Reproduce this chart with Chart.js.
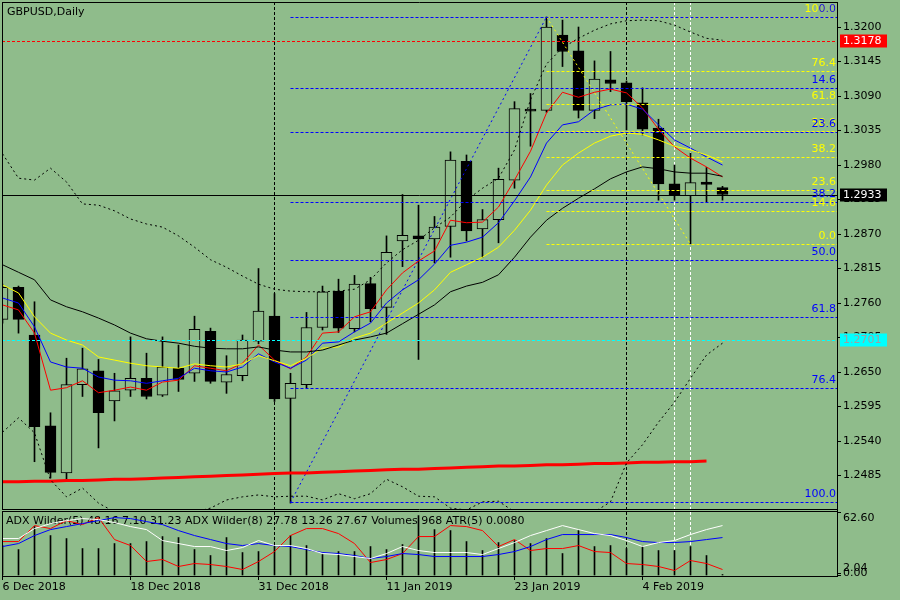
<!DOCTYPE html>
<html>
<head>
<meta charset="utf-8">
<script src="https://cdn.jsdelivr.net/npm/chart.js@4.4.1/dist/chart.umd.min.js"></script>
<style>
  html, body { margin: 0; padding: 0; background: #8FBC8B; overflow: hidden; }
</style>
</head>
<body>
<canvas id="chart" width="900" height="600"></canvas>
<script>
const ctx = document.getElementById("chart");

const bgColor = "#8FBC8B";
const title = "GBPUSD,Daily";
const indicatorTitle = "ADX Wilder(5) 48.16 7.10 31.23 ADX Wilder(8) 27.78 13.26 27.67 Volumes 968 ATR(5) 0.0080";

// daily candles, 6 Dec 2018 .. 11 Feb 2019 (bar index 0..45)
const open  = [1.2734,1.2785,1.2709,1.2564,1.2489,1.2630,1.2652,1.2604,1.2621,1.2640,1.2613,1.2656,1.2648,1.2715,1.2634,1.2644,1.2699,1.2739,1.2608,1.2630,1.2721,1.2779,1.2719,1.2791,1.2753,1.2859,1.2867,1.2862,1.2882,1.2986,1.2878,1.2893,1.2956,1.3069,1.3067,1.3187,1.3162,1.3067,1.3116,1.3111,1.3079,1.3039,1.2950,1.2931,1.2953,1.2944];
const high  = [1.2790,1.2787,1.2762,1.2585,1.2672,1.2688,1.2670,1.2648,1.2706,1.2680,1.2706,1.2693,1.2739,1.2720,1.2676,1.2709,1.2815,1.2775,1.2648,1.2745,1.2787,1.2798,1.2804,1.2801,1.2867,1.2933,1.2916,1.2898,1.3001,1.2996,1.2909,1.2975,1.3081,1.3094,1.3216,1.3211,1.3200,1.3146,1.3161,1.3114,1.3103,1.3053,1.2980,1.2999,1.2976,1.2946];
const low   = [1.2728,1.2712,1.2507,1.2481,1.2479,1.2611,1.2529,1.2572,1.2611,1.2607,1.2611,1.2619,1.2635,1.2632,1.2616,1.2636,1.2695,1.2603,1.2441,1.2625,1.2717,1.2713,1.2714,1.2730,1.2710,1.2818,1.2670,1.2824,1.2833,1.2859,1.2833,1.2856,1.2943,1.3010,1.3064,1.3137,1.3055,1.3054,1.3097,1.3036,1.3028,1.2924,1.2924,1.2854,1.2921,1.2924];
const close = [1.2785,1.2734,1.2563,1.2490,1.2630,1.2655,1.2585,1.2620,1.2640,1.2611,1.2658,1.2638,1.2718,1.2635,1.2646,1.2701,1.2747,1.2607,1.2632,1.2721,1.2778,1.2720,1.2790,1.2751,1.2841,1.2868,1.2862,1.2881,1.2988,1.2875,1.2893,1.2957,1.3070,1.3066,1.3200,1.3161,1.3067,1.3117,1.3110,1.3081,1.3037,1.2950,1.2931,1.2952,1.2949,1.2933];

// moving averages drawn on the price chart
const maRed    = [1.2757,1.2749,1.2712,1.2621,1.2625,1.2636,1.2617,1.2621,1.2626,1.2621,1.2634,1.2637,1.2660,1.2656,1.2652,1.2664,1.2693,1.2669,1.2655,1.2674,1.2712,1.2714,1.2738,1.2746,1.2781,1.2808,1.2827,1.2843,1.2892,1.2888,1.2889,1.2913,1.2956,1.3002,1.3063,1.3096,1.3088,1.3096,1.3101,1.3095,1.3071,1.3037,1.3009,1.2991,1.2977,1.2961];
const maBlue   = [1.2768,1.2760,1.2722,1.2666,1.2658,1.2656,1.2642,1.2637,1.2636,1.2632,1.2636,1.2640,1.2656,1.2652,1.2650,1.2658,1.2679,1.2666,1.2656,1.2669,1.2696,1.2698,1.2714,1.2728,1.2760,1.2781,1.2797,1.2822,1.2852,1.2857,1.2865,1.2888,1.2923,1.2961,1.3015,1.3044,1.3049,1.3068,1.3076,1.3077,1.3069,1.3044,1.3020,1.3007,1.2993,1.2980];
const maYellow = [1.2789,1.2776,1.2738,1.2712,1.2701,1.2693,1.2674,1.2669,1.2664,1.2660,1.2658,1.2656,1.2663,1.2660,1.2658,1.2663,1.2676,1.2668,1.2660,1.2672,1.2688,1.2690,1.2704,1.2712,1.2728,1.2744,1.2760,1.2781,1.2809,1.2821,1.2833,1.2849,1.2876,1.2908,1.2948,1.2980,1.2999,1.3015,1.3026,1.3031,1.3029,1.3020,1.3010,1.3004,1.2996,1.2985];
const maBlack  = [1.2821,1.2809,1.2797,1.2765,1.2754,1.2746,1.2736,1.2725,1.2712,1.2703,1.2699,1.2696,1.2691,1.2688,1.2687,1.2687,1.2690,1.2685,1.2682,1.2682,1.2685,1.2693,1.2701,1.2706,1.2712,1.2727,1.2742,1.2757,1.2778,1.2787,1.2793,1.2805,1.2833,1.2865,1.2892,1.2911,1.2927,1.2942,1.2958,1.2969,1.2977,1.2974,1.2969,1.2967,1.2967,1.2962];
const bandUp   = [1.2998,1.2959,1.2956,1.2975,1.2953,1.2918,1.2916,1.2907,1.2894,1.2886,1.2881,1.2867,1.2849,1.2829,1.2817,1.2803,1.2790,1.2782,1.2779,1.2778,1.2778,1.2779,1.2782,1.2797,1.2824,1.2845,1.2860,1.2880,1.2897,1.2924,1.2943,1.2959,1.3004,1.3084,1.3141,1.3167,1.3182,1.3195,1.3205,1.3210,1.3211,1.3210,1.3203,1.3192,1.3182,1.3179];
const bandDown = [1.2554,1.2577,1.2553,1.2478,1.2451,1.2465,1.2441,1.2427,1.2422,1.2420,1.2422,1.2425,1.2427,1.2433,1.2446,1.2451,1.2454,1.2451,1.2452,1.2452,1.2446,1.2456,1.2448,1.2456,1.2479,1.2467,1.2452,1.2451,1.2433,1.2430,1.2443,1.2444,1.2427,1.2422,1.2417,1.2417,1.2420,1.2427,1.2443,1.2505,1.2534,1.2570,1.2602,1.2640,1.2677,1.2696];
const maLong   = [1.2475,1.2475,1.2476,1.2476,1.2477,1.2477,1.2478,1.2479,1.2479,1.2480,1.2481,1.2482,1.2483,1.2484,1.2485,1.2486,1.2487,1.2488,1.2489,1.2489,1.2490,1.2491,1.2492,1.2493,1.2494,1.2495,1.2495,1.2496,1.2497,1.2498,1.2499,1.2500,1.2500,1.2501,1.2502,1.2502,1.2503,1.2504,1.2504,1.2505,1.2506,1.2506,1.2507,1.2507,1.2508,null];

// lower window
const volumes  = [30,26,49,40,37,27,27,32,32,34,39,38,26,20,38,23,24,30,40,30,21,24,24,29,26,31,60,46,45,34,25,33,35,32,37,22,45,29,30,27,29,25,25,29,20,1];
const adxWhite = [37,37,47,52,55,57,56,53,49,46,35,32,29,29,25,28,35,30,30,27,22,21,19,17,22,29,25,23,23,23,21,27,33,40,45,50,46,42,40,35,29,33,35,41,46,50];
const adxBlue  = [29,32,40,46,49,52,55,58,57,54,51,45,40,36,32,30,32,30,29,26,23,22,20,17,19,22,21,19,19,19,19,21,24,29,36,41,41,41,41,38,34,33,33,34,36,38];
const adxRed   = [34,34,50,47,55,51,58,36,30,14,16,9,12,11,9,6,14,24,40,47,47,42,32,13,16,22,39,39,50,49,45,29,36,25,27,27,30,24,23,12,11,9,5,15,12,6];

// axes
const xTickBars = [0, 8, 16, 24, 32, 40];
const xTickLabels = ["6 Dec 2018", "18 Dec 2018", "31 Dec 2018", "11 Jan 2019", "23 Jan 2019", "4 Feb 2019"];
const priceTicks = [1.3200,1.3145,1.3090,1.3035,1.2980,1.2925,1.2870,1.2815,1.2760,1.2705,1.2650,1.2595,1.2540,1.2485];
const indTicks = [0, 2.04, 62.6];
const indTickLabels = ["0.00", "2.04", "62.60"];

// fibo objects: [start bar, end bar], [start price, end price]
const fibLevels = [0, 14.6, 23.6, 38.2, 50, 61.8, 76.4, 100];
const blueFibBars = [18, 34];
const blueFibPrices = [1.2442, 1.3216];
const yellowFibBars = [34, 43];
const yellowFibPrices = [1.3216, 1.2854];

// horizontal lines / price labels
const alertPrice = 1.3178;
const bidPrice = 1.2933;
const levelPrice = 1.2701;

// vertical lines
const separatorBars = [17, 39];
const markerBars = [42, 43];


function toPoints(values){
    const points = [];
    for(let i = 0; i < values.length; i++){
        points.push({x: i, y: values[i]});
    }
    return points;
}

function fibPrice(prices, level){
    return prices[1] + (prices[0] - prices[1]) * level / 100;
}

function lineSet(values, color, width, dash, axis){
    return {
        type: "line",
        data: toPoints(values),
        borderColor: color,
        borderWidth: width,
        borderDash: dash,
        pointRadius: 0,
        tension: 0,
        yAxisID: axis,
        clip: 0,
        order: 1,
    };
}

function trendSet(bars, prices, color){
    return {
        type: "line",
        data: [{x: bars[0], y: prices[0]}, {x: bars[1], y: prices[1]}],
        borderColor: color,
        borderWidth: 1,
        borderDash: [2, 3],
        pointRadius: 0,
        yAxisID: "y",
        clip: 0,
        order: 2,
    };
}

function createDatasets(){
    const wicks = [];
    const bodies = [];
    const bodyColors = [];
    for(let i = 0; i < open.length; i++){
        wicks.push({x: i, y: [low[i], high[i]]});
        bodies.push({x: i, y: [open[i], close[i]]});
        bodyColors.push(close[i] >= open[i] ? bgColor : "#000000");
    }
    return [
        { type: "bar", data: wicks, backgroundColor: "#000000", barThickness: 1, grouped: false,
          yAxisID: "y", clip: 0, order: 20 },
        { type: "bar", data: bodies, backgroundColor: bodyColors, borderColor: "#000000", borderWidth: 1,
          borderSkipped: false, barThickness: 11, grouped: false, yAxisID: "y", clip: 0, order: 19 },
        lineSet(bandUp, "#000000", 1, [2, 3], "y"),
        lineSet(bandDown, "#000000", 1, [2, 3], "y"),
        lineSet(maLong, "#FF0000", 3, [], "y"),
        lineSet(maBlack, "#000000", 1, [], "y"),
        lineSet(maYellow, "#FFFF00", 1, [], "y"),
        lineSet(maBlue, "#0000FF", 1, [], "y"),
        lineSet(maRed, "#FF0000", 1, [], "y"),
        trendSet(blueFibBars, blueFibPrices, "#0000FF"),
        trendSet(yellowFibBars, yellowFibPrices, "#FFFF00"),
        { type: "bar", data: toPoints(volumes), backgroundColor: "#000000", barThickness: 1, grouped: false,
          yAxisID: "y2", clip: 0, order: 20 },
        lineSet(adxWhite, "#FFFFFF", 1, [], "y2"),
        lineSet(adxBlue, "#0000FF", 1, [], "y2"),
        lineSet(adxRed, "#FF0000", 1, [], "y2"),
    ];
}

// no extra label room around the plot, MT4 lets the labels hang out
function noPadding(s){
    s.paddingTop = 0;
    s.paddingBottom = 0;
    s.paddingLeft = 0;
    s.paddingRight = 0;
}


// backgrounds, objects and texts that MT4 draws around the series
const decor = {
    id: "decor",
    beforeDraw(chart){
        const c = chart.ctx;
        c.save();
        c.fillStyle = bgColor;
        c.fillRect(0, 0, chart.width, chart.height);
        c.restore();
    },
    beforeDatasetsDraw(chart){
        const c = chart.ctx;
        const area = chart.chartArea;
        const xs = chart.scales.x;
        c.save();
        c.lineWidth = 1;
        c.setLineDash([3, 2]);
        const vert = (bars, color) => {
            c.strokeStyle = color;
            for(const b of bars){
                const x = xs.getPixelForValue(b);
                c.beginPath();
                c.moveTo(x, area.top);
                c.lineTo(x, area.bottom);
                c.stroke();
            }
        };
        vert(separatorBars, "#000000");
        vert(markerBars, "#FFFFFF");
        c.setLineDash([]);
        c.font = "11px 'DejaVu Sans'";
        c.fillStyle = "#000000";
        c.textBaseline = "middle";
        c.fillText(title, 7, 12);
        c.fillText(indicatorTitle, 6, 521);
        c.restore();
    },
    afterDatasetsDraw(chart){
        const c = chart.ctx;
        const area = chart.chartArea;
        const xs = chart.scales.x;
        const ys = chart.scales.y;
        const y2 = chart.scales.y2;
        const py = (p) => Math.round(ys.getPixelForValue(p)) + 0.5;

        c.save();
        c.beginPath();
        c.rect(area.left, ys.top, area.right - area.left, ys.bottom - ys.top);
        c.clip();
        c.lineWidth = 1;

        const hLine = (price, fromBar, color, dash) => {
            const y = py(price);
            const x0 = fromBar == null ? area.left : xs.getPixelForValue(fromBar);
            c.strokeStyle = color;
            c.setLineDash(dash);
            c.beginPath();
            c.moveTo(x0, y);
            c.lineTo(area.right, y);
            c.stroke();
        };

        for(const lv of fibLevels) hLine(fibPrice(yellowFibPrices, lv), yellowFibBars[0], "#FFFF00", [3, 2]);
        for(const lv of fibLevels) hLine(fibPrice(blueFibPrices, lv), blueFibBars[0], "#0000FF", [3, 2]);
        hLine(alertPrice, null, "#FF0000", [3, 2]);
        hLine(levelPrice, null, "#00FFFF", [3, 2]);
        hLine(bidPrice, null, "#000000", []);

        c.font = "11px 'DejaVu Sans'";
        c.textAlign = "right";
        c.textBaseline = "middle";
        c.fillStyle = "#FFFF00";
        for(const lv of fibLevels) c.fillText(lv.toFixed(1), area.right - 1, py(fibPrice(yellowFibPrices, lv)) - 8);
        c.fillStyle = "#0000FF";
        for(const lv of fibLevels) c.fillText(lv.toFixed(1), area.right - 1, py(fibPrice(blueFibPrices, lv)) - 8);
        c.restore();

        // window frames
        c.save();
        c.strokeStyle = "#000000";
        c.lineWidth = 1;
        c.beginPath();
        c.moveTo(area.left, area.top + 0.5); c.lineTo(area.right, area.top + 0.5);
        c.moveTo(area.left + 0.5, area.top); c.lineTo(area.left + 0.5, ys.bottom);
        c.moveTo(area.left, ys.bottom + 0.5); c.lineTo(area.right, ys.bottom + 0.5);
        c.moveTo(area.left, ys.bottom + 2.5); c.lineTo(area.right, ys.bottom + 2.5);
        c.moveTo(area.left + 0.5, ys.bottom + 2); c.lineTo(area.left + 0.5, area.bottom);
        c.stroke();

        // price labels on the right scale
        c.font = "11px 'DejaVu Sans'";
        c.textBaseline = "middle";
        c.textAlign = "left";
        const box = (price, fill, text) => {
            const y = py(price);
            c.fillStyle = fill;
            c.fillRect(area.right + 3, y - 7, 47, 13);
            c.fillStyle = text;
            c.fillText(price.toFixed(4), area.right + 6, y);
        };
        box(alertPrice, "#FF0000", "#FFFFFF");
        box(bidPrice, "#000000", "#FFFFFF");
        box(levelPrice, "#00FFFF", "#A0A0A0");

        // lower window scale labels
        c.fillStyle = "#000000";
        const shift = [-2.5, -5.5, 5];
        for(let i = 0; i < indTicks.length; i++){
            c.fillText(indTickLabels[i], area.right + 6, y2.getPixelForValue(indTicks[i]) + shift[i]);
        }
        c.restore();
    }
};


function createChart(datasets){
    new Chart(ctx, {
        type: "bar",
        data: { datasets: datasets },
        plugins: [decor],
        options: {
            responsive: false,
            animation: false,
            devicePixelRatio: 1,
            layout: { padding: { left: 2, top: 2, right: 0, bottom: 0 } },
            plugins: { legend: { display: false }, tooltip: { enabled: false } },
            scales: {
                x: {
                    type: "linear",
                    position: "bottom",
                    offset: false,
                    min: -0.03125,
                    max: 52.15625,
                    afterBuildTicks: (s) => { s.ticks = xTickBars.map((v) => ({value: v})); },
                    afterFit: (s) => { s.height = 24; noPadding(s); },
                    grid: { offset: false, drawOnChartArea: false, drawTicks: true, tickLength: 4, color: "#000000" },
                    border: { display: true, color: "#000000" },
                    ticks: {
                        align: "start", padding: 1, color: "#000000", maxRotation: 0, autoSkip: false,
                        font: { family: "DejaVu Sans", size: 11 },
                        callback: (v) => xTickLabels[xTickBars.indexOf(v)],
                    },
                },
                y: {
                    type: "linear",
                    position: "right",
                    stack: "panes",
                    stackWeight: 507,
                    min: 1.24316,
                    max: 1.32399,
                    afterBuildTicks: (s) => { s.ticks = priceTicks.map((v) => ({value: v})); },
                    afterFit: (s) => { s.width = 63; noPadding(s); },
                    grid: { drawOnChartArea: false, drawTicks: true, tickLength: 4, color: "#000000" },
                    border: { display: true, color: "#000000" },
                    ticks: {
                        padding: 2, color: "#000000", autoSkip: false,
                        font: { family: "DejaVu Sans", size: 11 },
                        callback: (v) => v.toFixed(4),
                    },
                },
                y2: {
                    type: "linear",
                    position: "right",
                    stack: "panes",
                    stackWeight: 67,
                    min: -0.5,
                    max: 66.6,
                    afterBuildTicks: (s) => { s.ticks = indTicks.map((v) => ({value: v})); },
                    afterFit: (s) => { s.width = 63; noPadding(s); },
                    grid: { drawOnChartArea: false, drawTicks: true, tickLength: 4, color: "#000000" },
                    border: { display: true, color: "#000000" },
                    ticks: { display: false },
                },
            },
        },
    });
}

createChart(createDatasets());
</script>
</body>
</html>
